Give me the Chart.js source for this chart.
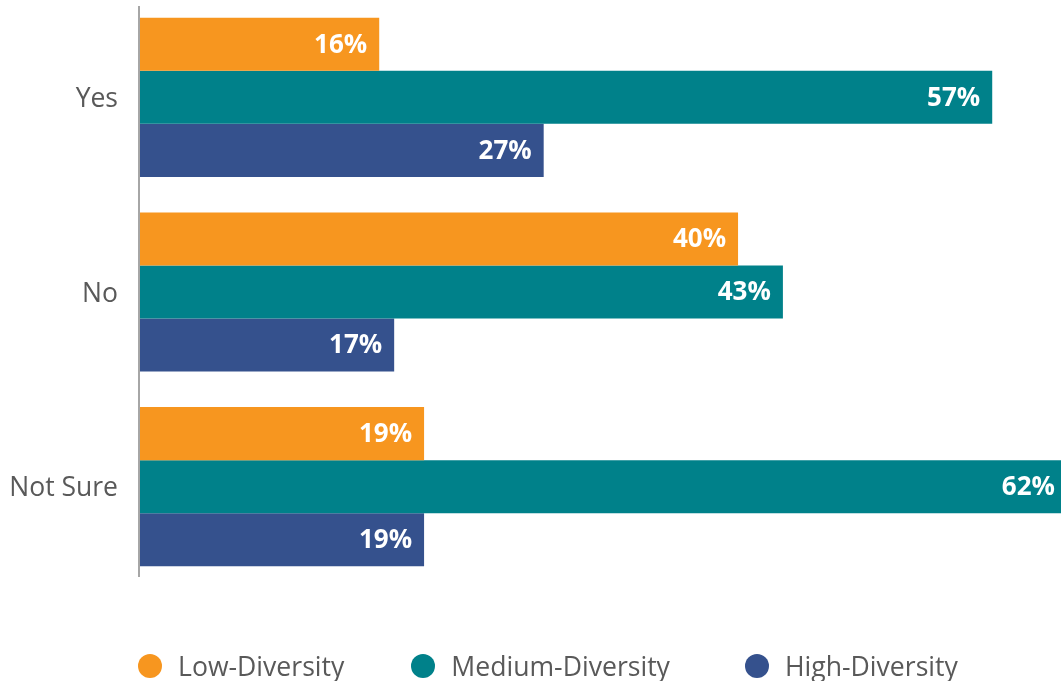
<!DOCTYPE html>
<html>
<head>
<meta charset="utf-8">
<script src="https://cdn.jsdelivr.net/npm/chart.js@4.4.1/dist/chart.umd.min.js"></script>
<style>
    html, body { margin: 0; padding: 0; background: #fff; }
    #wrap { position: relative; width: 1061px; height: 681px; }
    #legend {
        position: absolute; left: 138px; top: 648px;
        display: flex; align-items: center;
        font-family: 'Open Sans', sans-serif; font-size: 26.6px; color: #595959;
    }
    .lg-item { display: flex; align-items: center; margin-right: 67px; }
    .lg-item:nth-child(2) { margin-right: 75px; }
    .lg-dot { width: 24px; height: 24px; border-radius: 50%; margin-right: 16px; }
</style>
</head>
<body>
<div id="wrap">
    <canvas id="chart" width="1061" height="681"></canvas>
    <div id="legend"></div>
</div>
<script>
// ── Data ─────────────────────────────────────────────────────────────────────
const categories = ['Yes', 'No', 'Not Sure'];
const seriesNames = ['Low-Diversity', 'Medium-Diversity', 'High-Diversity'];
const seriesColors = ['#F7961F', '#00818A', '#35518D'];
const lowDiversity = [16, 40, 19];
const mediumDiversity = [57, 43, 62];
const highDiversity = [27, 17, 19];

const FONT = "'Open Sans', sans-serif";

// ── Plugins ──────────────────────────────────────────────────────────────────
const axisLine = {
    id: 'axisLine',
    afterDatasetsDraw(chart) {
        const { ctx, chartArea } = chart;
        ctx.save();
        ctx.strokeStyle = '#a6a6a6';
        ctx.lineWidth = 2;
        ctx.beginPath();
        ctx.moveTo(chartArea.left - 1, chartArea.top + 6);
        ctx.lineTo(chartArea.left - 1, chartArea.bottom - 7);
        ctx.stroke();
        ctx.restore();
    }
};

const barLabels = {
    id: 'barLabels',
    afterDatasetsDraw(chart) {
        const { ctx } = chart;
        ctx.save();
        ctx.font = `bold 26px ${FONT}`;
        ctx.fillStyle = '#ffffff';
        ctx.textAlign = 'right';
        ctx.textBaseline = 'middle';
        chart.data.datasets.forEach((ds, i) => {
            chart.getDatasetMeta(i).data.forEach((bar, j) => {
                ctx.fillText(ds.data[j] + '%', bar.x - 12, bar.y + 1);
            });
        });
        ctx.restore();
    }
};

// ── Chart ────────────────────────────────────────────────────────────────────
const ctx = document.getElementById('chart').getContext('2d');
const chart = new Chart(ctx, {
    type: 'bar',
    data: {
        labels: categories,
        datasets: [lowDiversity, mediumDiversity, highDiversity].map((d, i) => ({
            label: seriesNames[i],
            data: d,
            backgroundColor: seriesColors[i],
            borderWidth: 0,
            categoryPercentage: 0.8175,
            barPercentage: 1.0,
        }))
    },
    options: {
        indexAxis: 'y',
        responsive: false,
        animation: false,
        layout: { padding: { top: 0, right: 0, bottom: 97, left: 0 } },
        plugins: {
            legend: { display: false },
            tooltip: { enabled: false }
        },
        scales: {
            x: {
                display: false,
                min: 0, max: 61.6,
            },
            y: {
                grid: { display: false, drawTicks: false },
                border: { display: false },
                ticks: {
                    color: '#595959',
                    padding: 22,
                    labelOffset: 2,
                    font: { family: FONT, size: 26.5 }
                },
                afterFit(scale) {
                    scale.width = 140;
                    scale.paddingTop = 0;
                    scale.paddingBottom = 0;
                }
            }
        }
    },
    plugins: [axisLine, barLabels]
});

// ── Legend ───────────────────────────────────────────────────────────────────
const legendEl = document.getElementById('legend');
seriesNames.forEach((name, i) => {
    const item = document.createElement('div');
    item.className = 'lg-item';
    item.innerHTML = `<span class="lg-dot" style="background:${seriesColors[i]}"></span><span>${name}</span>`;
    legendEl.appendChild(item);
});
</script>
</body>
</html>
